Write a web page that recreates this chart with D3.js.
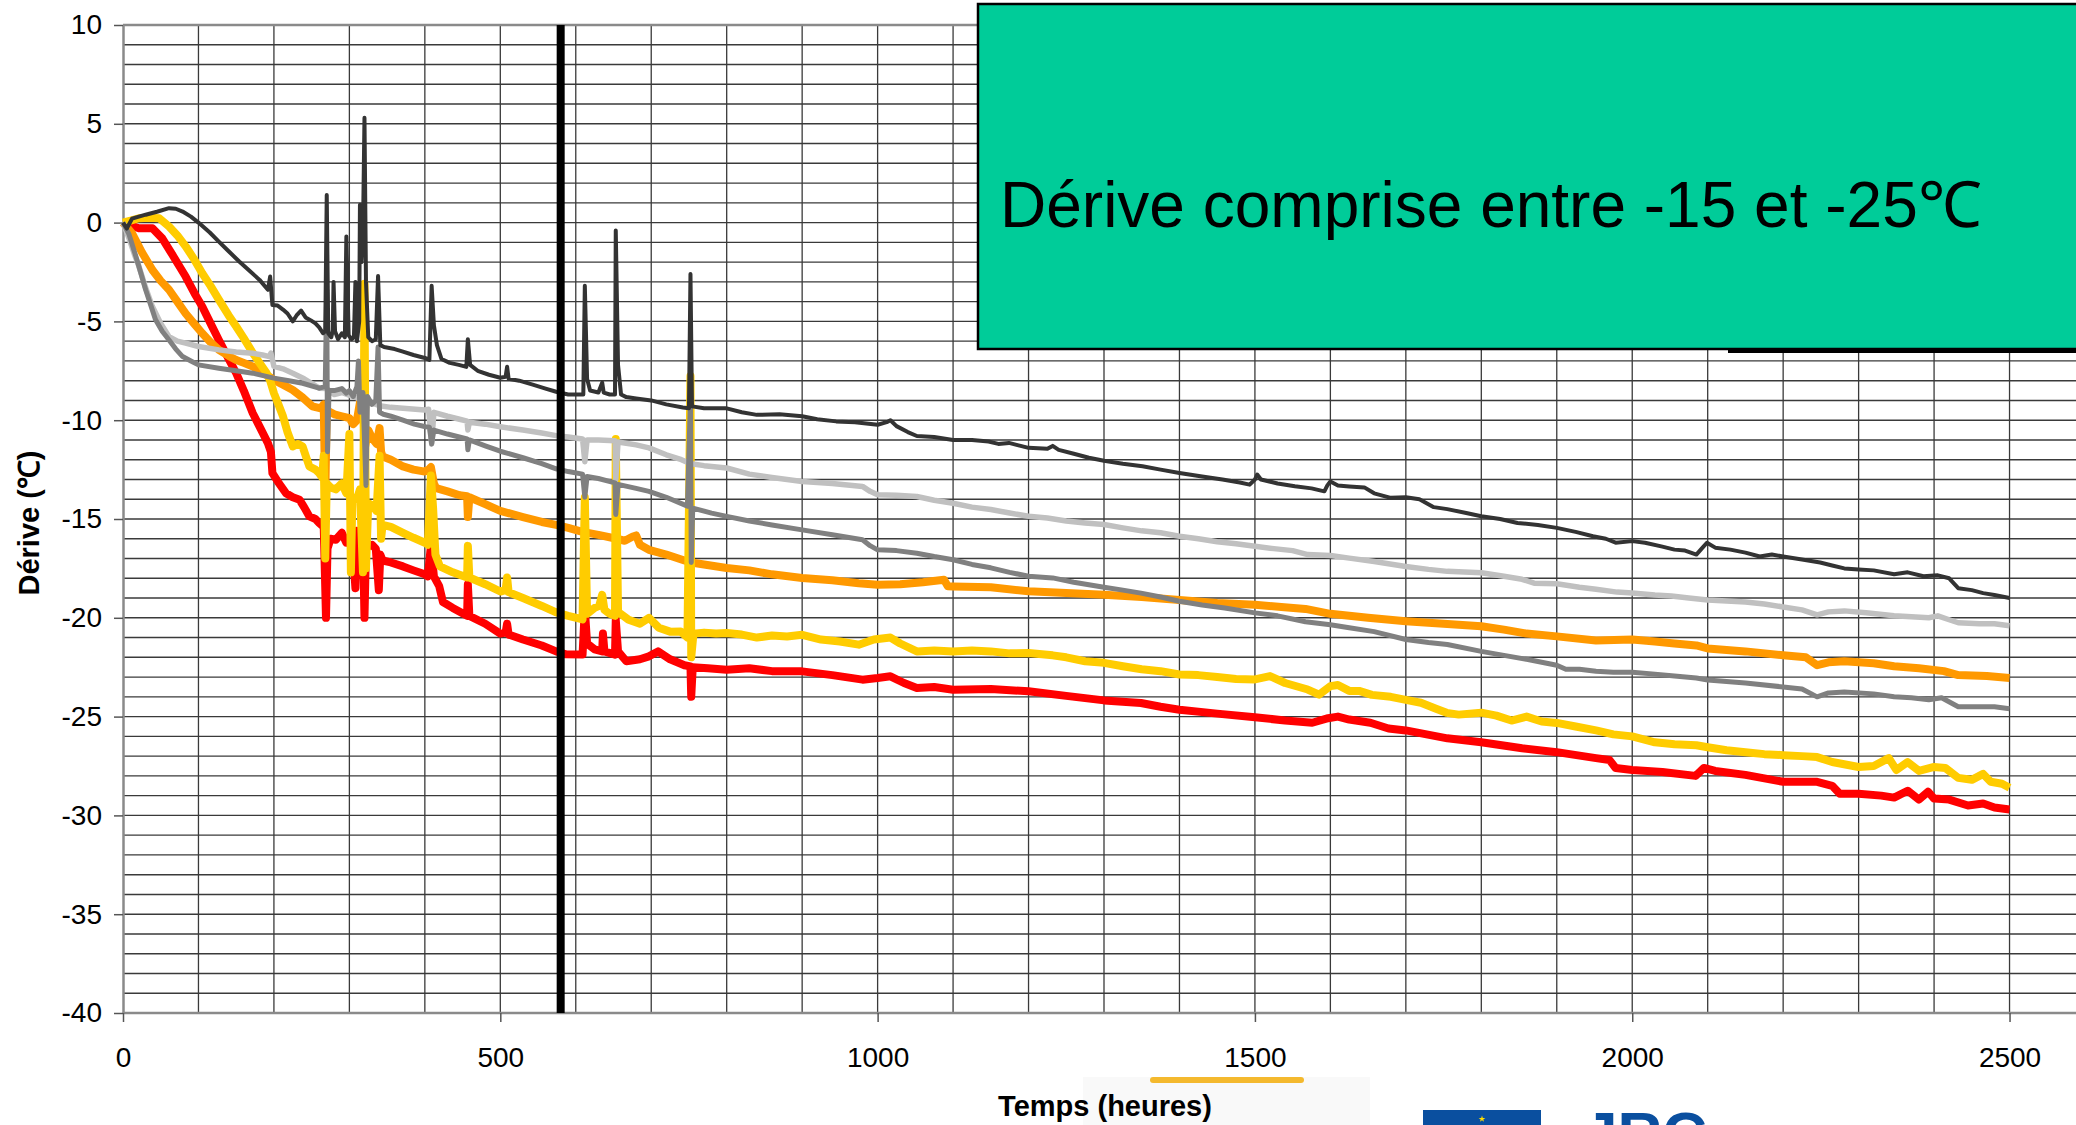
<!DOCTYPE html>
<html>
<head>
<meta charset="utf-8">
<script src="https://cdn.jsdelivr.net/npm/d3@7"></script>
<style>
  html, body { margin: 0; padding: 0; background: #fff; overflow: hidden; }
  svg { display: block; }
  svg text { font-family: "Liberation Sans", Arial, Helvetica, sans-serif; }
</style>
</head>
<body>
<svg id="chart" width="2076" height="1125"></svg>
<script>
// series: [hours, drift degC]
var blackSeries = [[0,0],[5,-0.3],[12,0.2],[30,0.4],[45,0.55],[61,0.73],[70,0.7],[79,0.56],[90,0.3],[100,0],[115,-0.5],[127,-0.96],[140,-1.45],[154,-1.97],[168,-2.45],[181,-2.9],[192,-3.4],[195,-2.73],[198,-4.17],[205,-4.2],[212,-4.4],[218,-4.6],[225,-5.0],[230,-4.7],[236,-4.45],[242,-4.8],[249,-4.95],[255,-5.1],[260,-5.3],[265,-5.6],[268,-5.5],[270,1.4],[272,-5.6],[276,-5.8],[278,-5.45],[279,-3.0],[281,-5.5],[285,-5.9],[290,-5.6],[294,-5.8],[296,-0.7],[299,-5.7],[303,-5.9],[306,-5.8],[308,-3.0],[310,-6.0],[313,-5.0],[314,0.9],[316,-2],[318,-0.5],[320,5.3],[322,-3],[325,-5.8],[330,-6.0],[335,-5.9],[338,-2.7],[341,-6.2],[346,-6.3],[360,-6.4],[371,-6.53],[385,-6.7],[400,-6.85],[406,-6.95],[409,-3.2],[412,-5.2],[416,-6.2],[422,-6.9],[433,-7.1],[445,-7.2],[455,-7.3],[457,-5.9],[460,-7.2],[470,-7.5],[485,-7.7],[500,-7.85],[507,-7.8],[509,-7.3],[511,-7.9],[525,-8.0],[543,-8.2],[560,-8.4],[574,-8.56],[590,-8.7],[605,-8.7],[610,-8.7],[612,-3.2],[615,-7.9],[619,-8.5],[630,-8.6],[635,-8.1],[637,-8.6],[645,-8.7],[652,-8.7],[653,-0.4],[656,-7.2],[660,-8.7],[667,-8.83],[680,-8.9],[700,-9.0],[720,-9.2],[742,-9.36],[750,-9.4],[752,-2.6],[754,-9.3],[770,-9.4],[800,-9.4],[820,-9.6],[840,-9.73],[870,-9.7],[900,-9.8],[920,-9.95],[945,-10.06],[970,-10.1],[1000,-10.23],[1012,-10.1],[1017,-10.0],[1025,-10.3],[1040,-10.6],[1052,-10.8],[1075,-10.85],[1100,-11.0],[1125,-11.0],[1147,-11.08],[1160,-11.2],[1174,-11.15],[1200,-11.4],[1225,-11.45],[1232,-11.3],[1240,-11.5],[1260,-11.7],[1280,-11.9],[1300,-12.05],[1325,-12.2],[1351,-12.33],[1375,-12.5],[1400,-12.67],[1430,-12.85],[1457,-13.0],[1480,-13.15],[1493,-13.26],[1500,-13.0],[1503,-12.75],[1508,-13.0],[1530,-13.2],[1553,-13.34],[1575,-13.45],[1592,-13.6],[1596,-13.3],[1600,-13.1],[1610,-13.3],[1625,-13.35],[1645,-13.4],[1658,-13.7],[1680,-13.93],[1700,-13.9],[1718,-14.0],[1737,-14.4],[1755,-14.5],[1780,-14.7],[1800,-14.86],[1825,-15.0],[1848,-15.2],[1875,-15.3],[1900,-15.45],[1925,-15.65],[1948,-15.87],[1965,-16.0],[1978,-16.2],[2000,-16.12],[2017,-16.2],[2040,-16.4],[2056,-16.55],[2070,-16.6],[2085,-16.8],[2092,-16.5],[2099,-16.2],[2110,-16.45],[2130,-16.55],[2150,-16.7],[2169,-16.9],[2185,-16.8],[2200,-16.9],[2225,-17.05],[2249,-17.2],[2265,-17.35],[2281,-17.5],[2300,-17.55],[2320,-17.6],[2347,-17.8],[2365,-17.7],[2386,-17.9],[2405,-17.85],[2420,-18.0],[2432,-18.5],[2450,-18.6],[2465,-18.75],[2480,-18.85],[2500,-19.0]];

var lightGreySeries = [[0,0],[8,-0.8],[15,-1.6],[21,-2.2],[30,-3.3],[39,-4.25],[50,-5.1],[61,-5.77],[72,-6.0],[83,-6.1],[100,-6.27],[127,-6.44],[150,-6.55],[172,-6.61],[185,-6.7],[194,-6.78],[196,-6.6],[200,-7.28],[212,-7.4],[225,-7.62],[240,-7.9],[260,-8.38],[270,-8.4],[280,-8.7],[290,-8.6],[304,-8.8],[320,-9.0],[340,-9.27],[355,-9.35],[371,-9.39],[400,-9.48],[405,-9.45],[409,-11.2],[412,-9.6],[430,-9.8],[446,-9.95],[456,-10.05],[457,-10.5],[459,-10.1],[480,-10.2],[500,-10.33],[530,-10.5],[555,-10.65],[574,-10.78],[590,-10.85],[609,-10.95],[612,-12.1],[615,-11.0],[630,-11.0],[652,-11.04],[653,-13.0],[656,-11.1],[680,-11.25],[697,-11.4],[720,-11.75],[740,-12.0],[750,-12.17],[753,-12.2],[770,-12.3],[800,-12.42],[830,-12.73],[860,-12.9],[900,-13.1],[940,-13.2],[980,-13.35],[990,-13.6],[1000,-13.77],[1025,-13.8],[1052,-13.86],[1075,-14.05],[1100,-14.2],[1125,-14.4],[1150,-14.52],[1175,-14.7],[1200,-14.86],[1225,-14.95],[1250,-15.1],[1275,-15.2],[1300,-15.28],[1325,-15.45],[1350,-15.6],[1375,-15.7],[1400,-15.87],[1425,-16.0],[1450,-16.15],[1475,-16.25],[1500,-16.38],[1525,-16.5],[1550,-16.6],[1570,-16.8],[1600,-16.85],[1625,-16.98],[1658,-17.15],[1700,-17.4],[1730,-17.55],[1755,-17.65],[1800,-17.72],[1830,-17.9],[1854,-18.05],[1870,-18.25],[1900,-18.28],[1930,-18.45],[1952,-18.55],[1980,-18.7],[2000,-18.75],[2030,-18.85],[2052,-18.9],[2075,-19.0],[2100,-19.1],[2125,-19.15],[2150,-19.2],[2175,-19.3],[2200,-19.45],[2225,-19.6],[2245,-19.85],[2260,-19.7],[2281,-19.65],[2310,-19.75],[2347,-19.9],[2370,-19.95],[2393,-20.0],[2405,-19.9],[2420,-20.1],[2432,-20.25],[2460,-20.3],[2480,-20.3],[2500,-20.4]];

var greySeries = [[0,0],[8,-0.6],[17,-1.7],[24,-2.6],[30,-3.4],[37,-4.2],[43,-4.9],[52,-5.5],[61,-5.94],[70,-6.4],[79,-6.78],[90,-7.0],[100,-7.2],[127,-7.37],[150,-7.5],[172,-7.62],[200,-7.87],[220,-8.0],[238,-8.13],[260,-8.38],[268,-8.3],[270,-3.4],[271,-11.6],[273,-8.5],[280,-8.5],[290,-8.4],[296,-8.63],[300,-8.5],[305,-8.8],[310,-8.3],[312,-7.0],[314,-9.6],[318,-8.6],[322,-13.3],[324,-8.8],[330,-9.2],[335,-9.0],[338,-6.3],[340,-9.6],[345,-9.7],[355,-9.8],[371,-10.0],[386,-10.2],[401,-10.33],[406,-10.35],[409,-11.2],[412,-10.5],[430,-10.7],[456,-10.95],[457,-11.5],[459,-11.0],[480,-11.3],[500,-11.57],[530,-11.9],[555,-12.2],[574,-12.46],[590,-12.6],[609,-12.73],[612,-13.9],[615,-12.85],[630,-12.95],[652,-13.17],[653,-14.77],[656,-13.25],[680,-13.45],[697,-13.6],[720,-13.9],[748,-14.35],[752,-8.9],[753,-17.2],[755,-14.45],[780,-14.7],[800,-14.87],[830,-15.1],[860,-15.3],[900,-15.55],[940,-15.8],[980,-16.05],[990,-16.35],[1000,-16.56],[1025,-16.6],[1052,-16.73],[1075,-16.9],[1100,-17.06],[1125,-17.3],[1150,-17.47],[1175,-17.7],[1200,-17.9],[1232,-17.98],[1260,-18.2],[1300,-18.45],[1325,-18.6],[1349,-18.75],[1375,-18.95],[1400,-19.16],[1430,-19.35],[1460,-19.5],[1500,-19.75],[1530,-19.9],[1567,-20.2],[1600,-20.35],[1625,-20.5],[1658,-20.7],[1700,-21.1],[1730,-21.25],[1755,-21.35],[1800,-21.7],[1830,-21.9],[1860,-22.1],[1900,-22.4],[1912,-22.6],[1930,-22.6],[1952,-22.7],[1975,-22.75],[2000,-22.75],[2030,-22.85],[2056,-22.95],[2085,-23.05],[2100,-23.15],[2150,-23.3],[2200,-23.5],[2225,-23.6],[2245,-24.0],[2260,-23.8],[2281,-23.75],[2320,-23.85],[2347,-24.0],[2370,-24.05],[2393,-24.15],[2410,-24.05],[2432,-24.5],[2460,-24.5],[2480,-24.5],[2500,-24.6]];

var orangeSeries = [[0,0],[12,-0.54],[25,-1.5],[39,-2.4],[50,-2.95],[61,-3.4],[72,-4.0],[83,-4.6],[95,-5.15],[105,-5.6],[116,-6.05],[127,-6.44],[140,-6.75],[150,-6.95],[160,-7.1],[172,-7.28],[186,-7.6],[200,-7.96],[212,-8.2],[225,-8.47],[238,-8.85],[251,-9.3],[262,-9.4],[266,-9.2],[268,-14.0],[270,-9.5],[280,-9.7],[290,-9.8],[300,-9.9],[305,-10.2],[310,-10.0],[318,-8.2],[320,-11.5],[325,-10.5],[330,-10.9],[336,-11.2],[340,-10.4],[342,-11.6],[344,-11.84],[355,-12.0],[371,-12.34],[385,-12.5],[400,-12.6],[405,-12.5],[408,-12.37],[412,-13.2],[415,-13.44],[430,-13.6],[446,-13.8],[456,-13.85],[457,-14.9],[459,-13.9],[480,-14.25],[500,-14.59],[530,-14.9],[555,-15.15],[574,-15.3],[590,-15.45],[609,-15.65],[630,-15.8],[654,-16.0],[665,-16.1],[675,-15.9],[680,-15.83],[685,-16.3],[697,-16.56],[720,-16.8],[744,-17.1],[753,-17.2],[770,-17.3],[800,-17.48],[830,-17.6],[860,-17.8],[900,-17.99],[940,-18.1],[975,-18.25],[1000,-18.33],[1030,-18.3],[1060,-18.2],[1088,-18.07],[1093,-18.4],[1100,-18.41],[1150,-18.45],[1200,-18.66],[1250,-18.75],[1300,-18.83],[1350,-18.95],[1400,-19.1],[1450,-19.25],[1500,-19.34],[1535,-19.45],[1567,-19.55],[1600,-19.8],[1650,-20.0],[1700,-20.17],[1750,-20.3],[1800,-20.43],[1830,-20.6],[1860,-20.8],[1900,-20.94],[1952,-21.15],[2000,-21.1],[2030,-21.2],[2056,-21.3],[2085,-21.4],[2100,-21.55],[2150,-21.7],[2200,-21.9],[2230,-22.0],[2245,-22.4],[2260,-22.25],[2281,-22.2],[2320,-22.3],[2347,-22.45],[2380,-22.55],[2413,-22.7],[2432,-22.9],[2470,-22.95],[2500,-23.05]];

var yellowSeries = [[0,0],[10,0.1],[21,0.22],[35,0.25],[48,0.22],[61,-0.2],[72,-0.65],[83,-1.2],[95,-1.9],[105,-2.56],[116,-3.2],[127,-3.9],[140,-4.7],[150,-5.26],[160,-5.85],[172,-6.6],[181,-7.1],[190,-7.6],[195,-8.0],[200,-8.63],[206,-9.2],[212,-9.8],[218,-10.6],[225,-11.33],[232,-11.2],[238,-11.33],[243,-11.9],[247,-12.34],[255,-12.5],[260,-12.68],[264,-12.9],[266,-11.8],[268,-17.0],[270,-13.2],[275,-13.4],[282,-13.5],[290,-13.2],[296,-13.7],[300,-10.7],[302,-17.7],[304,-13.9],[310,-14.0],[314,-13.5],[318,-17.7],[320,-3.1],[322,-17.5],[325,-14.2],[330,-14.3],[336,-14.6],[340,-11.8],[342,-16.0],[344,-15.3],[355,-15.4],[371,-15.7],[385,-15.95],[400,-16.2],[404,-16.3],[408,-12.8],[411,-14.5],[414,-16.8],[420,-17.4],[437,-17.7],[456,-17.96],[457,-16.36],[459,-17.96],[480,-18.3],[500,-18.67],[507,-18.6],[509,-17.96],[511,-18.7],[530,-19.0],[555,-19.4],[574,-19.73],[590,-19.9],[609,-20.08],[612,-13.9],[615,-19.8],[625,-19.5],[631,-19.4],[635,-18.84],[638,-19.6],[645,-19.8],[652,-19.9],[653,-10.95],[656,-19.7],[670,-20.1],[685,-20.3],[697,-20.0],[710,-20.5],[725,-20.7],[739,-20.69],[748,-21.0],[752,-7.76],[753,-22.0],[756,-20.8],[770,-20.75],[786,-20.8],[800,-20.77],[820,-20.85],[840,-21.0],[860,-20.9],[880,-20.95],[900,-20.86],[925,-21.1],[950,-21.2],[975,-21.36],[995,-21.1],[1017,-21.0],[1030,-21.3],[1052,-21.7],[1075,-21.65],[1100,-21.7],[1125,-21.65],[1150,-21.7],[1175,-21.8],[1200,-21.78],[1232,-21.9],[1250,-22.0],[1275,-22.2],[1300,-22.28],[1325,-22.45],[1350,-22.6],[1375,-22.7],[1400,-22.87],[1425,-22.9],[1450,-23.0],[1475,-23.1],[1500,-23.12],[1520,-22.95],[1540,-23.3],[1570,-23.63],[1585,-23.89],[1600,-23.46],[1610,-23.4],[1625,-23.7],[1638,-23.7],[1655,-23.9],[1680,-24.0],[1700,-24.15],[1720,-24.3],[1740,-24.6],[1754,-24.81],[1770,-24.9],[1800,-24.8],[1820,-24.95],[1840,-25.2],[1860,-25.0],[1880,-25.25],[1900,-25.32],[1925,-25.5],[1952,-25.7],[1975,-25.9],[2000,-26.0],[2030,-26.3],[2056,-26.4],[2085,-26.45],[2100,-26.55],[2125,-26.7],[2150,-26.8],[2175,-26.9],[2200,-26.95],[2225,-27.0],[2245,-27.05],[2265,-27.3],[2300,-27.55],[2320,-27.5],[2340,-27.1],[2350,-27.7],[2365,-27.3],[2380,-27.75],[2400,-27.55],[2415,-27.6],[2432,-28.1],[2450,-28.2],[2465,-27.9],[2475,-28.3],[2490,-28.4],[2500,-28.6]];

var redSeries = [[0,0],[10,-0.15],[21,-0.29],[39,-0.29],[52,-0.8],[65,-1.6],[83,-2.73],[95,-3.6],[105,-4.25],[116,-5.1],[127,-5.94],[140,-6.9],[150,-7.62],[160,-8.5],[172,-9.65],[182,-10.4],[192,-11.16],[196,-11.6],[198,-12.68],[205,-13.1],[216,-13.7],[225,-13.9],[234,-14.03],[240,-14.4],[247,-14.87],[255,-15.0],[260,-15.2],[266,-15.4],[269,-20.0],[271,-16.5],[275,-16.0],[282,-16.05],[290,-15.7],[296,-16.2],[300,-16.0],[304,-16.2],[308,-18.5],[310,-15.6],[314,-16.2],[318,-16.0],[320,-20.0],[322,-16.4],[330,-16.3],[335,-16.5],[339,-18.6],[341,-16.8],[344,-17.1],[355,-17.2],[371,-17.4],[385,-17.6],[400,-17.8],[404,-17.9],[408,-16.36],[412,-17.9],[419,-18.4],[424,-19.2],[437,-19.5],[456,-19.9],[457,-18.3],[459,-19.9],[480,-20.3],[500,-20.8],[507,-20.75],[509,-20.3],[511,-20.85],[530,-21.1],[555,-21.4],[574,-21.7],[587,-21.85],[609,-21.86],[612,-19.55],[615,-21.3],[625,-21.6],[635,-21.7],[636,-20.8],[638,-21.7],[652,-21.86],[653,-20.1],[656,-21.7],[667,-22.2],[685,-22.1],[697,-21.95],[709,-21.7],[725,-22.1],[744,-22.4],[752,-22.46],[753,-24.0],[755,-22.5],[775,-22.55],[800,-22.63],[830,-22.55],[860,-22.7],[900,-22.71],[940,-22.9],[980,-23.13],[1000,-23.05],[1017,-22.96],[1035,-23.3],[1052,-23.55],[1075,-23.5],[1100,-23.64],[1150,-23.6],[1200,-23.72],[1250,-23.95],[1300,-24.18],[1349,-24.31],[1375,-24.5],[1400,-24.65],[1450,-24.85],[1500,-25.03],[1540,-25.2],[1576,-25.31],[1597,-25.08],[1610,-25.0],[1625,-25.15],[1653,-25.31],[1677,-25.6],[1700,-25.7],[1755,-26.1],[1800,-26.3],[1854,-26.6],[1900,-26.8],[1952,-27.1],[1970,-27.2],[1978,-27.6],[2000,-27.7],[2040,-27.8],[2084,-28.0],[2095,-27.6],[2110,-27.75],[2150,-27.95],[2200,-28.3],[2245,-28.3],[2265,-28.5],[2275,-28.9],[2300,-28.9],[2330,-29.0],[2347,-29.1],[2365,-28.75],[2380,-29.2],[2392,-28.8],[2400,-29.15],[2420,-29.2],[2445,-29.5],[2465,-29.4],[2480,-29.6],[2500,-29.7]];

var xTicks = [0, 500, 1000, 1500, 2000, 2500];
var yTicks = [10, 5, 0, -5, -10, -15, -20, -25, -30, -35, -40];
var markerHours = [580];
var xTitle = "Temps (heures)";
var yTitle = "Dérive (℃)";
var boxText = "Dérive comprise entre -15 et -25℃";
var logoText = "JRC";

(function() {
    'use strict';
    var svg = d3.select("#chart");
    var left = 123, top = 25, bottom = 1013, right = 2085;
    var font = "'Liberation Sans', Arial, Helvetica, sans-serif";

    var x = d3.scaleLinear().domain([0, 2600]).range([left, right]);
    var y = d3.scaleLinear().domain([-40, 10]).range([bottom, top]);

    // grid: 1 degree and 100 hours
    var grid = svg.append("g").attr("class", "grid");
    grid.selectAll("line.h").data(d3.range(-40, 11, 1)).enter().append("line")
        .attr("x1", left).attr("x2", 2076)
        .attr("y1", function(d) { return y(d); }).attr("y2", function(d) { return y(d); })
        .attr("stroke", "#3a3a3a").attr("stroke-width", 1.4);
    grid.selectAll("line.v").data(d3.range(100, 2601, 100)).enter().append("line")
        .attr("y1", top).attr("y2", bottom)
        .attr("x1", function(d) { return x(d); }).attr("x2", function(d) { return x(d); })
        .attr("stroke", "#3a3a3a").attr("stroke-width", 1.3);
    // frame (top edge)
    svg.append("line").attr("x1", left).attr("x2", 2076).attr("y1", top).attr("y2", top)
        .attr("stroke", "#8a8a8a").attr("stroke-width", 2.5);

    // axes
    var plain = function(d) { return String(d); };
    var yAxis = svg.append("g").attr("transform", "translate(" + left + ",0)")
        .call(d3.axisLeft(y).tickValues(yTicks).tickFormat(plain).tickSize(9).tickSizeOuter(0).tickPadding(12));
    var xAxis = svg.append("g").attr("transform", "translate(0," + bottom + ")")
        .call(d3.axisBottom(x).tickValues(xTicks).tickFormat(plain).tickSize(9).tickSizeOuter(0).tickPadding(25));
    [xAxis, yAxis].forEach(function(a) {
        a.attr("font-family", font).attr("font-size", 28);
        a.select(".domain").attr("stroke", "#8a8a8a").attr("stroke-width", 2.5);
        a.selectAll(".tick line").attr("stroke", "#555").attr("stroke-width", 1.5);
        a.selectAll(".tick text").attr("fill", "#000");
    });
    xAxis.select(".domain").attr("d", "M" + left + ",0H2076");

    // series
    var line = d3.line().x(function(d) { return x(d[0]); }).y(function(d) { return y(d[1]); });
    var series = [
        { data: redSeries, color: "#ff0000", width: 8 },
        { data: orangeSeries, color: "#ff9900", width: 8 },
        { data: yellowSeries, color: "#ffcc00", width: 8 },
        { data: lightGreySeries, color: "#c0c0c0", width: 5.5 },
        { data: greySeries, color: "#808080", width: 5 },
        { data: blackSeries, color: "#333333", width: 4 }
    ];
    svg.append("g").selectAll("path").data(series).enter().append("path")
        .attr("d", function(s) { return line(s.data); })
        .attr("fill", "none")
        .attr("stroke", function(s) { return s.color; })
        .attr("stroke-width", function(s) { return s.width; })
        .attr("stroke-linejoin", "round");

    // thick black marker line
    svg.selectAll("line.marker").data(markerHours).enter().append("line")
        .attr("class", "marker")
        .attr("x1", function(d) { return x(d); }).attr("x2", function(d) { return x(d); })
        .attr("y1", top).attr("y2", bottom)
        .attr("stroke", "#000").attr("stroke-width", 8);

    // slide decorations at the bottom
    svg.append("rect").attr("x", 1083).attr("y", 1077).attr("width", 287).attr("height", 48).attr("fill", "#f9f9f9");
    svg.append("line").attr("x1", 1153).attr("x2", 1301).attr("y1", 1080).attr("y2", 1080)
        .attr("stroke", "#f4b92e").attr("stroke-width", 6).attr("stroke-linecap", "round");
    svg.append("rect").attr("x", 1423).attr("y", 1110).attr("width", 118).attr("height", 20).attr("fill", "#0a4f9f");
    svg.append("path").attr("d", d3.symbol().type(d3.symbolStar).size(14)()).attr("transform", "translate(1482,1119)")
        .attr("fill", "#ffdd00");
    svg.append("text").attr("x", 1583).attr("y", 1155).attr("font-family", font)
        .attr("font-size", 62).attr("font-weight", "bold").attr("fill", "#0a4f9f").text(logoText);

    // axis titles
    svg.append("text").attr("x", 1105).attr("y", 1116).attr("text-anchor", "middle").attr("font-family", font)
        .attr("font-size", 29).attr("font-weight", "bold").text(xTitle);
    svg.append("text").attr("transform", "translate(39,523) rotate(-90)").attr("text-anchor", "middle")
        .attr("font-family", font).attr("font-size", 29).attr("font-weight", "bold").text(yTitle);

    // green callout box
    svg.append("rect").attr("x", 1728).attr("y", 8).attr("width", 400).attr("height", 345).attr("fill", "#000");
    svg.append("rect").attr("x", 978).attr("y", 4).attr("width", 1200).attr("height", 345)
        .attr("fill", "#00cc99").attr("stroke", "#000").attr("stroke-width", 2.5);
    svg.append("text").attr("x", 1000).attr("y", 227).attr("font-family", font)
        .attr("font-size", 64).attr("fill", "#000").text(boxText);
}());
</script>
</body>
</html>
